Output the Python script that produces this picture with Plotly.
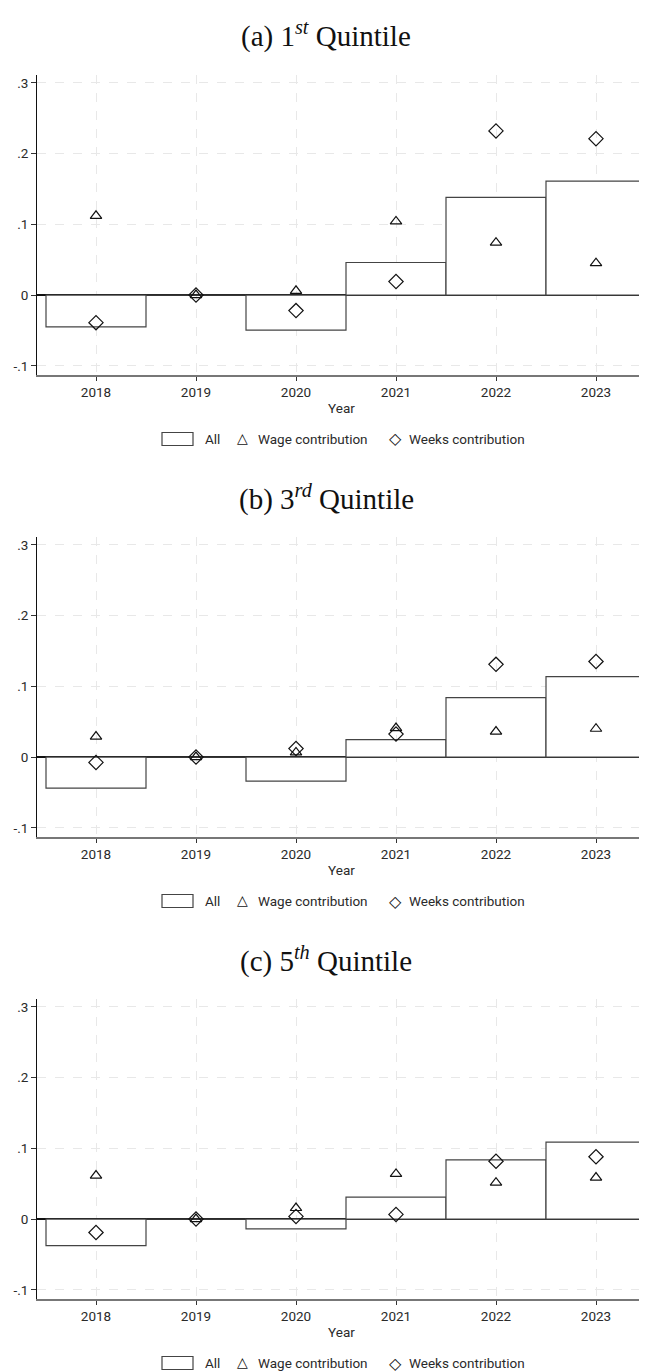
import plotly.graph_objects as go

years = [2018, 2019, 2020, 2021, 2022, 2023]

# Panel (a) 1st quintile
q1_all = [-0.045, 0.0, -0.0495, 0.046, 0.138, 0.161]
q1_wage = [0.112, 0.0, 0.006, 0.104, 0.074, 0.045]
q1_weeks = [-0.039, 0.0, -0.022, 0.019, 0.232, 0.221]

# Panel (b) 3rd quintile
q3_all = [-0.044, 0.0, -0.034, 0.0245, 0.084, 0.1137]
q3_wage = [0.029, 0.0, 0.0065, 0.041, 0.036, 0.040]
q3_weeks = [-0.0076, 0.0, 0.012, 0.0325, 0.131, 0.135]

# Panel (c) 5th quintile
q5_all = [-0.0375, 0.0, -0.0138, 0.031, 0.0837, 0.1087]
q5_wage = [0.0614, 0.0, 0.0156, 0.0638, 0.0515, 0.0586]
q5_weeks = [-0.019, 0.0, 0.0037, 0.0065, 0.0817, 0.088]

titles = ["(a) 1<sup><i>st</i></sup> Quintile",
          "(b) 3<sup><i>rd</i></sup> Quintile",
          "(c) 5<sup><i>th</i></sup> Quintile"]
series_names = ["All", "Wage contribution", "Weeks contribution"]
panels = [(q1_all, q1_wage, q1_weeks), (q3_all, q3_wage, q3_weeks), (q5_all, q5_wage, q5_weeks)]

ytick_vals = [-0.1, 0, 0.1, 0.2, 0.3]
ytick_text = ["-.1", "0", ".1", ".2", ".3"]

# page body has an 8px margin, so the figure is sized to fit the window
W, H = 639, 1364
OFF = 8  # screen offset of the figure
pitch = 462
plot_top0, plot_bot0 = 75 - OFF, 375 - OFF
title_y0 = 35 - OFF
legend_y0 = 439 - OFF

SANS = "Roboto"
TICKFONT = dict(family=SANS, size=13.5, color="#2a2a2a")
LEGFONT = dict(family=SANS, size=13.5, color="#2a2a2a")


def px(x):
    return x / W


def py(y):
    return 1 - y / H


fig = go.Figure()
for i, (a, w, k) in enumerate(panels):
    xa = "x" if i == 0 else f"x{i+1}"
    ya = "y" if i == 0 else f"y{i+1}"
    fig.add_trace(go.Bar(x=years, y=a, base=0, width=1, name=series_names[0],
                         marker=dict(color="white", line=dict(color="#444", width=1.2)),
                         xaxis=xa, yaxis=ya, showlegend=False))
    fig.add_trace(go.Scatter(x=years, y=w, mode="markers", name=series_names[1],
                             marker=dict(symbol="triangle-up-open", size=10, color="#111",
                                         line=dict(width=1.2, color="#111")),
                             xaxis=xa, yaxis=ya, showlegend=False))
    fig.add_trace(go.Scatter(x=years, y=k, mode="markers", name=series_names[2],
                             marker=dict(symbol="diamond-open", size=11, color="#111",
                                         line=dict(width=1.2, color="#111")),
                             xaxis=xa, yaxis=ya, showlegend=False))

    top = plot_top0 + i * pitch
    bot = plot_bot0 + i * pitch
    xkey = "xaxis" if i == 0 else f"xaxis{i+1}"
    ykey = "yaxis" if i == 0 else f"yaxis{i+1}"
    fig.update_layout(**{
        xkey: dict(domain=[px(37 - OFF), px(646 - OFF)], range=[2017.41, 2023.5], anchor=ya,
                   tickvals=years, ticktext=[str(y) for y in years],
                   showgrid=True, gridcolor="#e8e8e8", griddash="dash", gridwidth=1,
                   showline=True, linecolor="#777", linewidth=1.5,
                   ticks="outside", ticklen=4, tickcolor="#333", tickwidth=1,
                   tickfont=TICKFONT, zeroline=False, automargin=False,
                   title=dict(text="Year", font=dict(family=SANS, size=13.5, color="#2a2a2a"), standoff=5)),
        ykey: dict(domain=[py(bot), py(top)], range=[-0.113, 0.311], anchor=xa,
                   tickvals=ytick_vals, ticktext=ytick_text,
                   showgrid=True, gridcolor="#e8e8e8", griddash="dash", gridwidth=1,
                   showline=True, linecolor="#111", linewidth=1,
                   ticks="outside", ticklen=5, tickcolor="#333", tickwidth=1,
                   tickfont=TICKFONT, automargin=False,
                   zeroline=True, zerolinecolor="#111", zerolinewidth=1.6),
    })
    fig.add_annotation(text=titles[i], x=(326 - OFF) / W, xref="paper", y=py(title_y0 + i * pitch),
                       yref="paper", yanchor="middle", showarrow=False,
                       font=dict(family="Liberation Serif", size=29, color="#111"))

    # legend row
    ly = legend_y0 + i * pitch
    fig.add_shape(type="rect", xref="paper", yref="paper",
                  x0=px(162 - OFF), x1=px(193 - OFF), y0=py(ly + 6.5), y1=py(ly - 6.5),
                  line=dict(color="#444", width=1.2), fillcolor="white")
    fig.add_annotation(text=series_names[0], x=px(203 - OFF), y=py(ly), xref="paper", yref="paper",
                       xanchor="left", yanchor="middle", showarrow=False, font=LEGFONT)
    fig.add_annotation(text="\u25B3", x=px(242.5 - OFF), y=py(ly - 1), xref="paper", yref="paper",
                       xanchor="center", yanchor="middle", showarrow=False,
                       font=dict(family="DejaVu Sans", size=14, color="#111"))
    fig.add_annotation(text=series_names[1], x=px(256 - OFF), y=py(ly), xref="paper", yref="paper",
                       xanchor="left", yanchor="middle", showarrow=False, font=LEGFONT)
    fig.add_annotation(text="\u25C7", x=px(395 - OFF), y=py(ly), xref="paper", yref="paper",
                       xanchor="center", yanchor="middle", showarrow=False,
                       font=dict(family="DejaVu Sans", size=16, color="#111"))
    fig.add_annotation(text=series_names[2], x=px(407 - OFF), y=py(ly), xref="paper", yref="paper",
                       xanchor="left", yanchor="middle", showarrow=False, font=LEGFONT)

fig.update_layout(width=W, height=H, margin=dict(l=0, r=0, t=0, b=0),
                  plot_bgcolor="white", paper_bgcolor="white", barmode="overlay",
                  showlegend=False)

fig.write_html("out.html")
